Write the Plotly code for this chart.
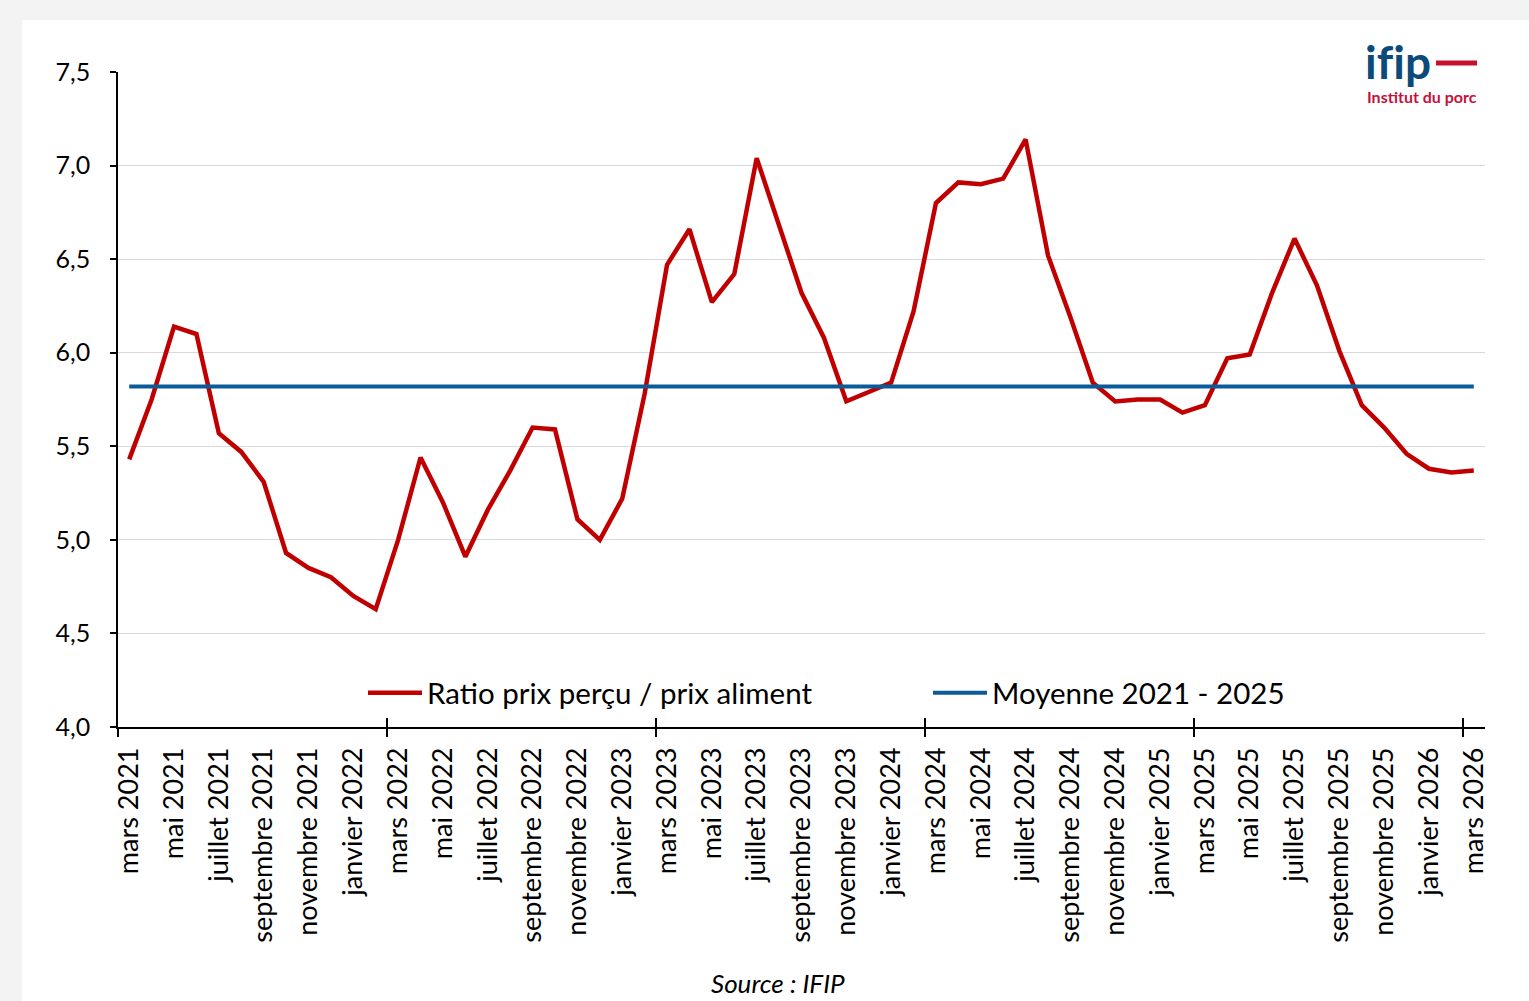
import plotly.graph_objects as go

# ---- data ----
mois = ["mars", "avril", "mai", "juin", "juillet", "août", "septembre",
        "octobre", "novembre", "décembre", "janvier", "février"]
annees_debut = 2021
n_points = 61
categories = []
for k in range(n_points):
    m = mois[k % 12]
    annee = annees_debut + (k + 2) // 12
    categories.append(f"{m} {annee}")

ratio = [5.43, 5.75, 6.14, 6.10, 5.57, 5.47, 5.31, 4.93, 4.85, 4.80,
         4.70, 4.63, 5.00, 5.44, 5.20, 4.91, 5.16, 5.37, 5.60, 5.59, 5.11, 5.00,
         5.22, 5.78, 6.47, 6.66, 6.27, 6.42, 7.04, 6.68, 6.32, 6.08, 5.74, 5.79,
         5.84, 6.22, 6.80, 6.91, 6.90, 6.93, 7.14, 6.52, 6.19, 5.84, 5.74, 5.75,
         5.75, 5.68, 5.72, 5.97, 5.99, 6.32, 6.61, 6.36, 6.01, 5.72, 5.60, 5.46,
         5.38, 5.36, 5.37]
moyenne = 5.82

y_ticks = [4.0, 4.5, 5.0, 5.5, 6.0, 6.5, 7.0, 7.5]

idx = list(range(n_points))
label_idx = idx[::2]
label_text = [categories[i] for i in label_idx]
year_bounds = [i - 0.5 for i in idx if i % 12 == 0] + [n_points - 1.5]

W, H = 1529, 1001
L, R, T, B = 118, 44, 72, 274
pw, ph = W - L - R, H - T - B

def px_x(p):
    return (p - L) / pw

def px_y(p):
    return (H - B - p) / ph

fig = go.Figure()
fig.add_trace(go.Scatter(
    x=idx, y=ratio, mode="lines", name="Ratio prix perçu / prix aliment",
    line=dict(color="#c00000", width=4.5), hoverinfo="skip"))
fig.add_trace(go.Scatter(
    x=idx, y=[moyenne] * n_points, mode="lines", name="Moyenne 2021 - 2025",
    line=dict(color="#0b5b98", width=4), hoverinfo="skip", xaxis="x2"))
fig.add_trace(go.Scatter(x=[None], y=[None], xaxis="x3", showlegend=False,
                         hoverinfo="skip"))

xr = [-0.5, n_points - 0.5]
fig.update_layout(
    width=W, height=H,
    margin=dict(l=L, r=R, t=T, b=B, pad=0),
    paper_bgcolor="#f3f3f3", plot_bgcolor="white",
    separators=", ",
    font=dict(family="Lato", color="black"),
    showlegend=True,
    legend=dict(orientation="h", x=px_x(363), y=px_y(693), xanchor="left",
                yanchor="middle", bgcolor="rgba(0,0,0,0)",
                font=dict(family="Lato", size=29.5, color="black"),
                itemwidth=54, entrywidth=496, entrywidthmode="pixels",
                traceorder="normal"),
    xaxis=dict(range=xr, tickmode="array", tickvals=label_idx,
               ticktext=label_text, tickangle=-90, ticks="",
               tickfont=dict(family="Lato", size=27, color="black"),
               ticklabelstandoff=8,
               showgrid=False, zeroline=False, showline=True,
               linecolor="black", linewidth=1.5),
    xaxis2=dict(range=xr, overlaying="x", anchor="y", side="bottom",
                tickmode="array", tickvals=year_bounds, ticks="outside",
                ticklen=9, tickwidth=1.5, tickcolor="black",
                showticklabels=False, showgrid=False, zeroline=False,
                showline=False),
    xaxis3=dict(range=xr, overlaying="x", anchor="y", side="bottom",
                tickmode="array", tickvals=year_bounds, ticks="inside",
                ticklen=9, tickwidth=1.5, tickcolor="black",
                showticklabels=False, showgrid=False, zeroline=False,
                showline=False),
    yaxis=dict(range=[4.0, 7.5], tickmode="array", tickvals=y_ticks,
               tickformat=".1f", ticks="outside", ticklen=6, tickwidth=1.5,
               tickcolor="black",
               tickfont=dict(family="Lato", size=25, color="black"),
               ticklabelstandoff=15,
               showgrid=True, gridcolor="#d9d9d9", gridwidth=1.3,
               zeroline=False, showline=True, linecolor="black",
               linewidth=1.5),
)

# white card background
fig.add_shape(type="rect", xref="paper", yref="paper",
              x0=px_x(22), x1=px_x(W + 5), y0=px_y(H + 5), y1=px_y(20),
              fillcolor="white", line=dict(width=0), layer="below")

# logo
fig.add_annotation(text="<b>i\u200cf\u200ci\u200cp</b>", xref="paper", yref="paper",
                   x=px_x(1363), y=px_y(62), xanchor="left", yanchor="middle",
                   showarrow=False,
                   font=dict(family="Lato", size=46, color="#0d4a7c"))
fig.add_shape(type="line", xref="paper", yref="paper",
              x0=px_x(1436), x1=px_x(1477), y0=px_y(63), y1=px_y(63),
              line=dict(color="#c8102e", width=5))
fig.add_annotation(text="<b>Institut du porc</b>", xref="paper", yref="paper",
                   x=px_x(1422), y=px_y(97), xanchor="center",
                   yanchor="middle", showarrow=False,
                   font=dict(family="Lato", size=16, color="#c4123a"))

# source
fig.add_annotation(text="<i>Source : IFIP</i>", xref="paper", yref="paper",
                   x=px_x(778), y=px_y(983), xanchor="center",
                   yanchor="middle", showarrow=False,
                   font=dict(family="Lato", size=26, color="black"))

fig.write_html("out.html",
               config={"displayModeBar": False},
               post_script="document.body.style.margin='0';document.body.style.overflow='hidden';")
